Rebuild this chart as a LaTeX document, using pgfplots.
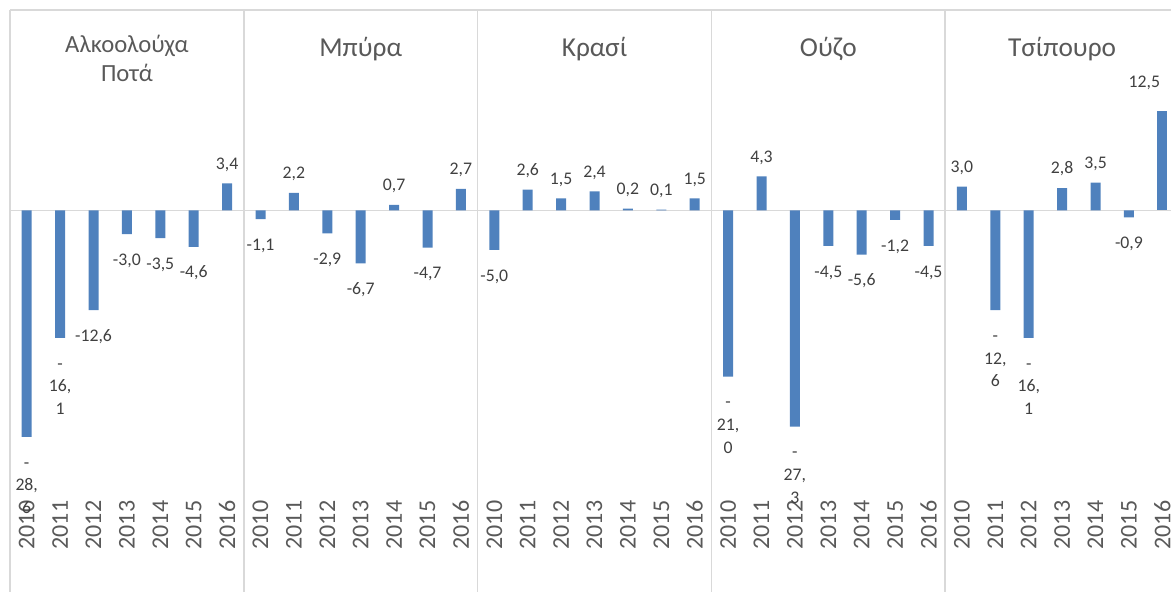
\documentclass[border=0pt]{standalone}
\usepackage{fontspec}
\setmainfont{Carlito}
\usepackage{pgfplots}
\pgfplotsset{compat=1.18}
\definecolor{barblue}{HTML}{4F81BD}
\definecolor{gridgray}{HTML}{D9D9D9}
\definecolor{txtgray}{HTML}{595959}
\definecolor{lblgray}{HTML}{404040}
\begin{document}
\begin{tikzpicture}
\useasboundingbox (-7.5pt,0pt) rectangle (870.75pt,444pt);
\begin{axis}[
  at={(0pt,0pt)}, anchor=south west,
  scale only axis, width=870.75pt, height=436.5pt,
  xmin=-0.5, xmax=34.26, ymin=-48.2, ymax=25.3,
  axis line style={draw=none},
  major tick length=0pt,
  ytick=\empty,
  xtick={0,1,...,34},
  xticklabels={2010,2011,2012,2013,2014,2015,2016,
               2010,2011,2012,2013,2014,2015,2016,
               2010,2011,2012,2013,2014,2015,2016,
               2010,2011,2012,2013,2014,2015,2016,
               2010,2011,2012,2013,2014,2015,2016},
  xticklabel style={rotate=90, anchor=east, font=\fontsize{18}{21}\selectfont, text=txtgray},
  xticklabel shift=-72pt,
  extra x ticks={-0.5,6.5,13.5,20.5,27.5},
  extra x tick labels={},
  extra x tick style={grid=major, major grid style={draw=gridgray, line width=1.2pt}},
  extra y ticks={0,25.3},
  extra y tick labels={},
  extra y tick style={grid=major, major grid style={draw=gridgray, line width=1.2pt}},
  ybar, bar width=7.5pt, bar shift=0pt,
  clip=false,
  nodes near coords={\strut\pgfplotspointmeta},
  point meta=explicit symbolic,
  every node near coord/.append style={font=\fontsize{13.3}{17}\selectfont, text=lblgray, align=center},
]
% positive values
\addplot[fill=barblue, draw=none, every node near coord/.append style={anchor=south, yshift=2pt}]
coordinates {
(6,3.4) [3,4]
(8,2.2) [2,2] (11,0.7) [0,7] (13,2.7) [2,7]
(15,2.6) [2,6] (16,1.5) [1,5] (17,2.4) [2,4] (18,0.2) [0,2] (19,0.1) [0,1] (20,1.5) [1,5]
(22,4.3) [4,3]
(28,3.0) [3,0] (31,2.8) [2,8] (32,3.5) [3,5]
};
% negative values
\addplot[fill=barblue, draw=none, every node near coord/.append style={anchor=north, yshift=-8pt}]
coordinates {
(0,-28.6) [{-\\28,\\6}] (1,-16.1) [{-\\16,\\1}] (2,-12.6) [-12,6] (3,-3.0) [-3,0] (4,-3.5) [-3,5] (5,-4.6) [-4,6]
(7,-1.1) [-1,1] (9,-2.9) [-2,9] (10,-6.7) [-6,7] (12,-4.7) [-4,7]
(14,-5.0) [-5,0]
(21,-21.0) [{-\\21,\\0}] (23,-27.3) [{-\\27,\\3}] (24,-4.5) [-4,5] (25,-5.6) [-5,6] (26,-1.2) [-1,2] (27,-4.5) [-4,5]
(29,-12.6) [{-\\12,\\6}] (30,-16.1) [{-\\16,\\1}] (33,-0.9) [-0,9]
};
% last bar, label kept inside the chart
\addplot[fill=barblue, draw=none, every node near coord/.append style={anchor=south, yshift=9.5pt, xshift=-13.5pt}]
coordinates {(34,12.5) [12,5]};
\node[anchor=base, font=\fontsize{18.5}{22}\selectfont, text=txtgray] at (axis cs:3,19.96) {Αλκοολούχα};
\node[anchor=base, font=\fontsize{18.5}{22}\selectfont, text=txtgray] at (axis cs:3,16.3) {Ποτά};
\node[anchor=base, font=\fontsize{20.5}{24}\selectfont, text=txtgray] at (axis cs:10,19.4) {Μπύρα};
\node[anchor=base, font=\fontsize{20.5}{24}\selectfont, text=txtgray] at (axis cs:17,19.4) {Κρασί};
\node[anchor=base, font=\fontsize{20.5}{24}\selectfont, text=txtgray] at (axis cs:24,19.4) {Ούζο};
\node[anchor=base, font=\fontsize{20.5}{24}\selectfont, text=txtgray] at (axis cs:31,19.4) {Τσίπουρο};
\end{axis}
\end{tikzpicture}
\end{document}
